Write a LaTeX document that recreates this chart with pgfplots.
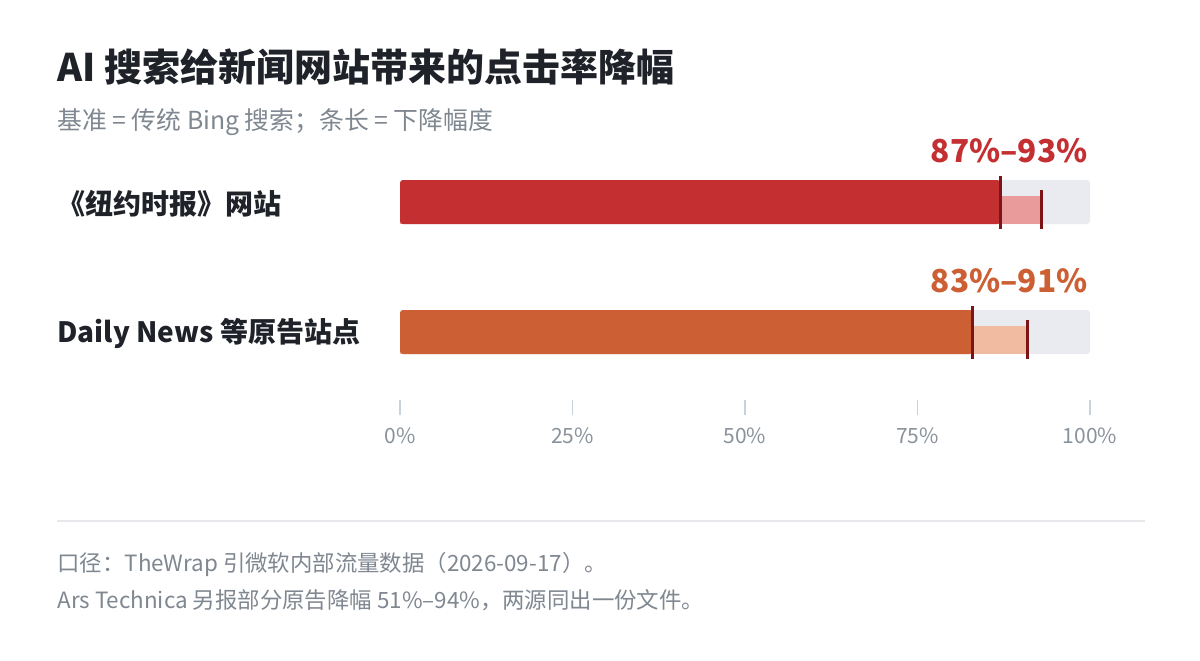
\documentclass[border=0pt]{standalone}
\usepackage{fontspec}
\setmainfont{Noto Sans CJK SC}
\usepackage{pgfplots}
\pgfplotsset{compat=1.18}
\definecolor{ink}{HTML}{1F2329}
\definecolor{subgray}{HTML}{7F8790}
\definecolor{labgray}{HTML}{8A929B}
\definecolor{tickgray}{HTML}{C9D1D9}
\definecolor{sepgray}{HTML}{E6E8EC}
\definecolor{track}{HTML}{E9EBF0}
\definecolor{redmain}{HTML}{C42F32}
\definecolor{redlight}{HTML}{E99A9B}
\definecolor{orgmain}{HTML}{CC5F33}
\definecolor{orglight}{HTML}{F1BBA2}
\definecolor{darktick}{HTML}{7B1518}
\begin{document}
\begin{tikzpicture}
\fill[white] (0,0) rectangle (600pt,-330pt);
\node[anchor=base west, inner sep=0, font=\bfseries\fontsize{19pt}{22pt}\selectfont, text=ink] at (28.5pt,-40.5pt) {AI 搜索给新闻网站带来的点击率降幅};
\node[anchor=base west, inner sep=0, font=\fontsize{12.4pt}{14pt}\selectfont, text=subgray] at (28.5pt,-64.5pt) {基准 = 传统 Bing 搜索；条长 = 下降幅度};
\node[anchor=west, inner sep=0, font=\bfseries\fontsize{14pt}{16pt}\selectfont, text=ink] at (28.5pt,-102pt) {《纽约时报》网站};
\node[anchor=west, inner sep=0, font=\bfseries\fontsize{14pt}{16pt}\selectfont, text=ink] at (28.5pt,-166.5pt) {Daily News 等原告站点};
\begin{axis}[
  at={(200pt,-207.5pt)}, anchor=south west,
  scale only axis, width=345pt, height=122.5pt,
  xmin=0, xmax=100, ymin=-415, ymax=-170,
  axis line style={draw=none},
  ytick=\empty,
  xtick={0,25,50,75,100},
  xticklabels={0\%,25\%,50\%,75\%,100\%},
  xtick pos=bottom,
  tick align=inside,
  major tick length=7.5pt,
  xtick style={draw=tickgray, line width=0.75pt},
  xticklabel style={font=\fontsize{10.5pt}{12pt}\selectfont, text=labgray, yshift=-3pt},
  clip=false,
]
\addplot[xbar, bar shift=0pt, bar width=44, fill=track, draw=none, rounded corners=1.5pt] coordinates {(100,-202) (100,-332)};
\addplot[xbar, bar shift=0pt, bar width=28, fill=redlight, draw=none] coordinates {(93,-210)};
\addplot[xbar, bar shift=0pt, bar width=28, fill=orglight, draw=none] coordinates {(91,-340)};
\addplot[xbar, bar shift=0pt, bar width=44, fill=redmain, draw=none, rounded corners=1.5pt] coordinates {(87,-202)};
\addplot[xbar, bar shift=0pt, bar width=44, fill=orgmain, draw=none, rounded corners=1.5pt] coordinates {(83,-332)};
\addplot[darktick, line width=1.5pt] coordinates {(87,-176) (87,-229)};
\addplot[darktick, line width=1.5pt] coordinates {(93,-190) (93,-229)};
\addplot[darktick, line width=1.5pt] coordinates {(83,-306) (83,-359)};
\addplot[darktick, line width=1.5pt] coordinates {(91,-320) (91,-359)};
\node[anchor=base east, inner sep=0, font=\bfseries\fontsize{15.8pt}{18pt}\selectfont, text=redmain] at (axis cs:99.7,-162) {87\%–93\%};
\node[anchor=base east, inner sep=0, font=\bfseries\fontsize{15.8pt}{18pt}\selectfont, text=orgmain] at (axis cs:99.7,-292) {83\%–91\%};
\end{axis}
\draw[sepgray, line width=0.6pt] (28.5pt,-260.5pt) -- (572.5pt,-260.5pt);
\node[anchor=base west, inner sep=0, font=\fontsize{11.2pt}{13pt}\selectfont, text=subgray] at (28.5pt,-285.5pt) {口径：TheWrap 引微软内部流量数据（2026-09-17）。};
\node[anchor=base west, inner sep=0, font=\fontsize{11.2pt}{13pt}\selectfont, text=subgray] at (28.5pt,-304pt) {Ars Technica 另报部分原告降幅 51\%–94\%，两源同出一份文件。};
\end{tikzpicture}
\end{document}
